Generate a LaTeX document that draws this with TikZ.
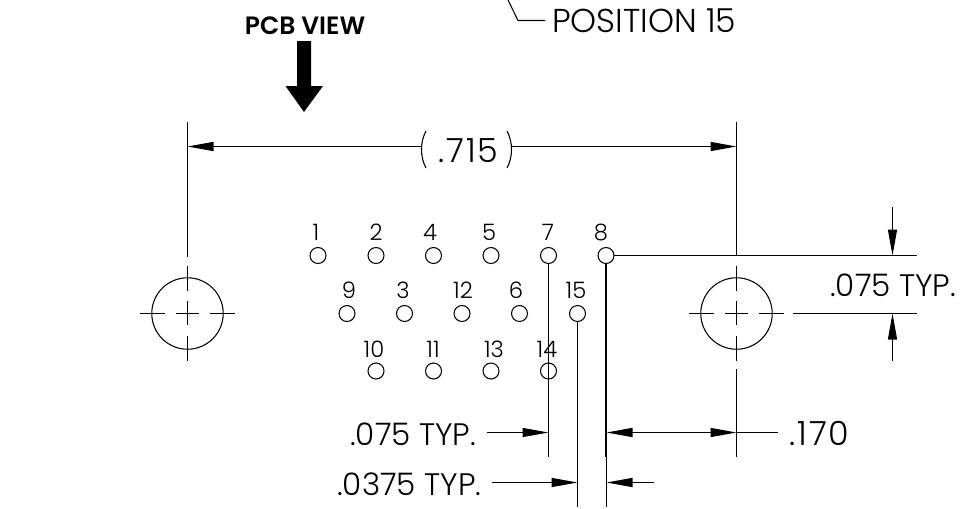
\documentclass[tikz,border=0pt]{standalone}
\usepackage{fontspec}
\setmainfont{Poppins Light}[BoldFont=Poppins SemiBold]
\usetikzlibrary{arrows.meta}
\tikzset{
  line/.style={line width=0.8pt,black},
  thick line/.style={line width=1.5pt,black},
  dimend/.style={line width=0.8pt,black,-{Triangle[length=19.5pt,width=6.8pt]}},
  pin/.style={circle,draw,line width=0.8pt,minimum size=12pt,inner sep=0pt,outer sep=0pt},
  pinlabel/.style={font=\fontsize{17}{17}\selectfont,inner sep=0pt,anchor=center},
  dimtext/.style={font=\fontsize{23.3}{25}\selectfont,inner sep=0pt,anchor=base west},
  numtext/.style={font=\fontsize{25}{26}\selectfont\addfontfeature{LetterSpace=6},inner sep=0pt,anchor=base west},
  hole/.style={circle,draw,line width=0.8pt,minimum size=53.6pt,inner sep=0pt,outer sep=0pt},
}
\begin{document}
\begin{tikzpicture}[x=0.75pt,y=-0.75pt]
\useasboundingbox (0,0) rectangle (964,508);
% top note
\node[font=\fontsize{24.8}{25}\selectfont,inner sep=0pt,anchor=base west] (pos) at (552,32) {POSITION 15};
\coordinate (leadA) at (508,0);
\coordinate (leadB) at (518,20.5);
\coordinate (leadC) at (545,20.5);
\draw[line] (leadA) -- (leadB) -- (leadC);
% PCB view
\node[font=\fontsize{18.8}{19}\selectfont\bfseries,inner sep=0pt,anchor=base] (pcb) at (305,34) {PCB VIEW};
\fill[black] (297,41) -- (311,41) -- (311,86) -- (323,86) -- (304,112) -- (285.5,86) -- (297,86) -- cycle;
% holes
\node[hole] (hl) at (187.5,313.5) {};
\node[hole] (hr) at (736.5,313.5) {};
% hole centre lines
\draw[line] (140,313.5) -- (165,313.5) (176,313.5) -- (199,313.5) (210,313.5) -- (235,313.5);
\draw[line] (187.5,265.7) -- (187.5,290.7) (187.5,301) -- (187.5,325) (187.5,336) -- (187.5,360.7);
\draw[line] (689,313.5) -- (714,313.5) (725,313.5) -- (748,313.5) (759,313.5) -- (784,313.5);
\coordinate (rext1) at (793,313.5); \coordinate (rext2) at (917,313.5);
\draw[line] (rext1) -- (rext2);
\draw[line] (736.5,266) -- (736.5,291) (736.5,301) -- (736.5,325) (736.5,336) -- (736.5,361);
% extension lines
\coordinate (ltop) at (187.5,122); \coordinate (lbot) at (187.5,256.7);
\draw[line] (ltop) -- (lbot);
\coordinate (rtop) at (736.5,122); \coordinate (rbot) at (736.5,256);
\draw[line] (rtop) -- (rbot);
\coordinate (rlow1) at (736.5,369); \coordinate (rlow2) at (736.5,457);
\draw[line] (rlow1) -- (rlow2);
% .715
\node[numtext] (d715) at (438,162) {.715};
\coordinate (dl) at (187.5,146.5); \coordinate (dlm) at (421.5,146.5);
\coordinate (dr) at (736.5,146.5); \coordinate (drm) at (511.5,146.5);
\draw[dimend] (dlm) -- (dl);
\draw[dimend] (drm) -- (dr);
\draw[line] (426,131) .. controls (420,142) and (420,157) .. (426,168);
\draw[line] (507,131) .. controls (513,142) and (513,157) .. (507,168);
% pins
\foreach \n/\x/\y in {1/318/255.5,2/376/255.5,4/433.5/255.5,5/491/255.5,7/548.5/255.5,8/606/255.5,
  9/347/313.5,3/404.5/313.5,12/462/313.5,6/519.5/313.5,15/577.5/313.5,
  10/376/371,11/433.5/371,13/491/371,14/548.5/371}{
  \node[pin] (p\n) at (\x,\y) {};
}
\foreach \t/\x/\y in {1/316/232,2/376/232,4/430/232,5/489/232,7/548/232,8/601/232,
  9/349/290.5,3/403/290.5,12/463/290.5,6/516/290.5,15/576/290.5,
  10/374/349,11/433/349,13/494/349,14/547/349}{
  \node[pinlabel] (t\t) at (\x,\y) {\t};
}
% pin extension lines
\coordinate (e7) at (548.5,457); \draw[line] (p7.south) -- (e7);
\coordinate (e15) at (577.5,507); \draw[line] (p15.south) -- (e15);
\coordinate (e8a) at (606,457); \coordinate (e8c) at (606.5,457); \coordinate (e8b) at (606.5,507);
\draw[thick line] (p8.south) -- (e8a);
\draw[line] (e8c) -- (e8b);
\coordinate (e8r) at (917,255.5);
\draw[line] (p8.east) -- (e8r);
% .075 vertical
\node[dimtext] (t075v) at (830,296) {.075 TYP.};
\coordinate (vtop) at (892.5,207); \coordinate (vtip1) at (892.5,255.5);
\coordinate (vbot) at (892.5,361); \coordinate (vtip2) at (892.5,313.5);
\draw[dimend] (vtop) -- (vtip1);
\draw[dimend] (vbot) -- (vtip2);
% .075 horizontal
\node[dimtext] (t075h) at (350,445) {.075 TYP.};
\coordinate (h1) at (487,432.5); \coordinate (h1t) at (548.5,432.5);
\draw[dimend] (h1) -- (h1t);
% .170
\node[numtext] (t170) at (789,445) {.170};
\coordinate (h2) at (654,432.5); \coordinate (h2t) at (606.5,432.5);
\coordinate (h3) at (778,432.5); \coordinate (h3t) at (736.5,432.5);
\draw[dimend] (h2) -- (h2t);
\draw[dimend] (h2) -- (h3t);
\draw[line] (h3t) -- (h3);
% .0375
\node[dimtext] (t0375) at (337,495) {.0375 TYP.};
\coordinate (j1) at (492,482.5); \coordinate (j1t) at (577.5,482.5);
\coordinate (j2) at (654,482.5); \coordinate (j2t) at (606.5,482.5);
\draw[dimend] (j1) -- (j1t);
\draw[dimend] (j2) -- (j2t);
\end{tikzpicture}
\end{document}
